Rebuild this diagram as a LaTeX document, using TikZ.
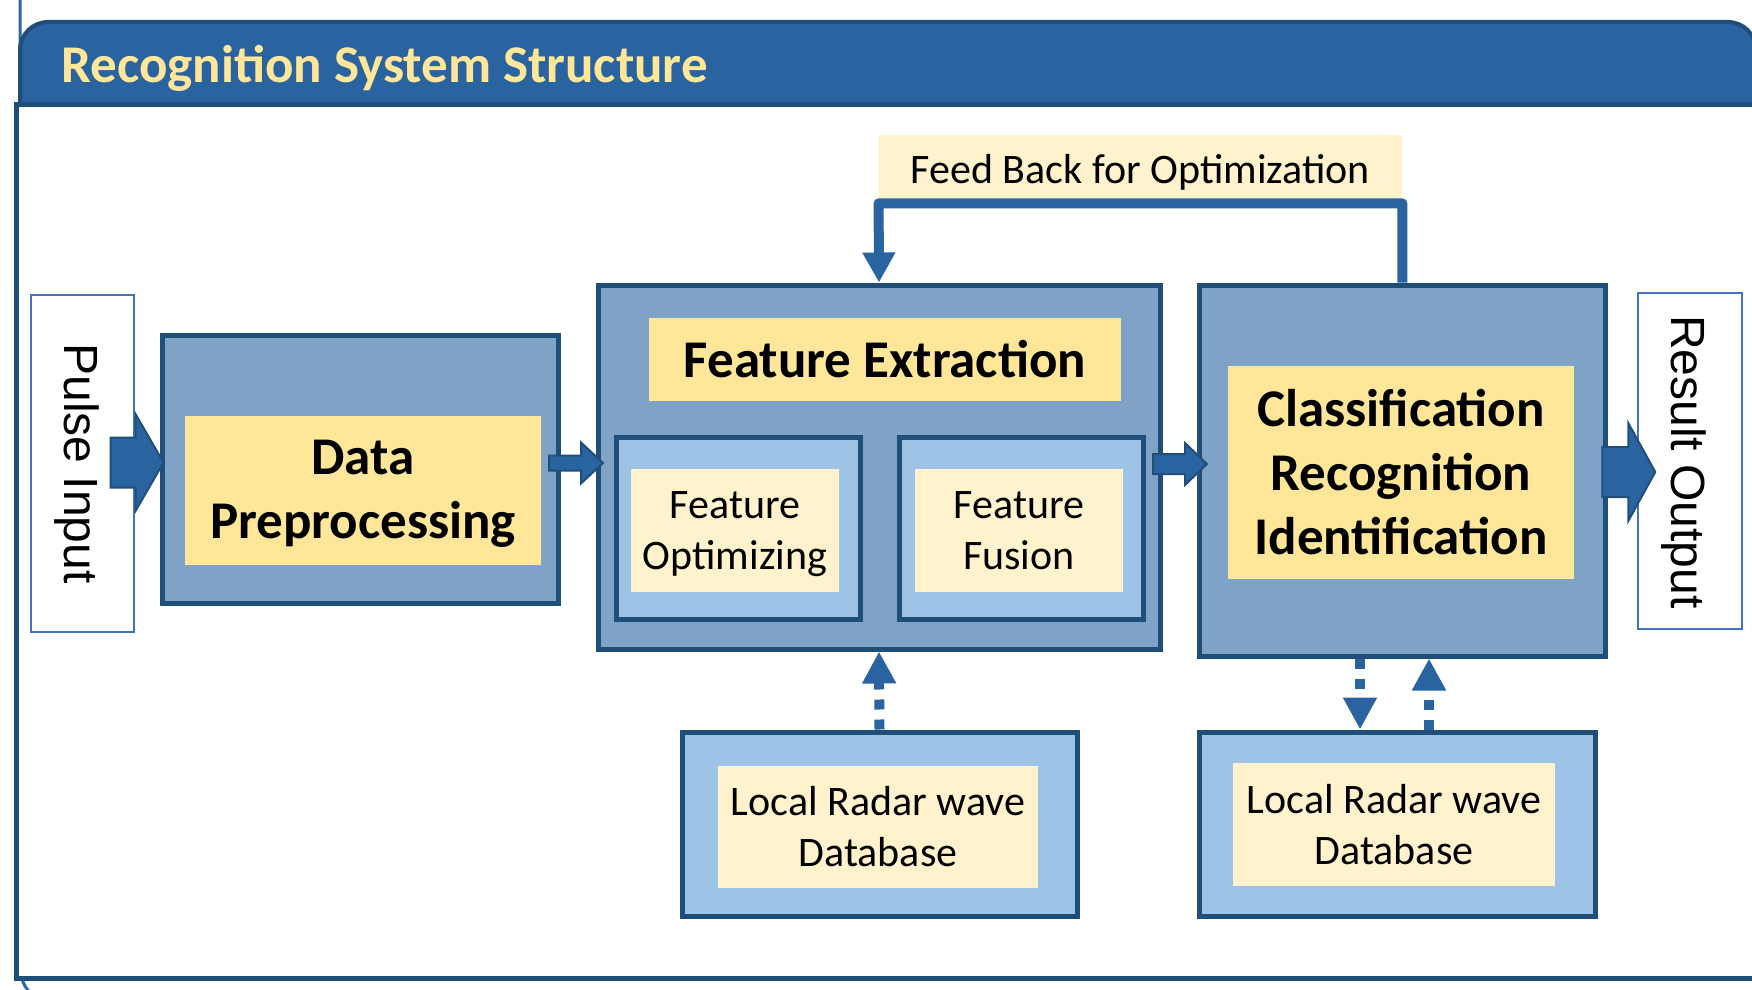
\documentclass[tikz,border=0pt]{standalone}
\usepackage{fontspec}
\setmainfont{Carlito}
\newfontfamily\arialfont{Liberation Sans}
\usetikzlibrary{fit,calc,arrows.meta}

\definecolor{framedark}{HTML}{1F4E79}
\definecolor{barblue}{HTML}{2A64A0}
\definecolor{midblue}{HTML}{7FA3C7}
\definecolor{lightblue}{HTML}{9DC3E6}
\definecolor{yellowfill}{HTML}{FFE699}
\definecolor{paleyellow}{HTML}{FFF2CC}
\definecolor{portblue}{HTML}{4472C4}
\definecolor{panelblue}{HTML}{2E65A5}

\newcommand\bigbold{\fontsize{26.5}{32}\selectfont\bfseries}
\newcommand\smalltext{\fontsize{21}{25.5}\selectfont}
\newcommand\porttext{\arialfont\fontsize{24}{28}\selectfont}

% filled block arrow: tip, total length, shaft half height, head half height, head length
\newcommand\blockarrow[5]{%
  \filldraw[blockarr] (#1) -- ++(-#5,#4) -- ++(0,-#4+#3) -- ++(-#2+#5,0)
    -- ++(0,-2*#3) -- ++(#2-#5,0) -- ++(0,-#4+#3) -- cycle;}

\begin{document}
\begin{tikzpicture}[x=0.5pt,y=-0.5pt,
  outerbox/.style={draw=framedark, line width=2.5pt, fill=midblue, inner sep=0pt},
  subbox/.style={draw=framedark, line width=2.5pt, fill=lightblue, inner sep=0pt},
  hilite/.style={fill=yellowfill, inner sep=0pt},
  softbox/.style={fill=paleyellow, inner sep=0pt},
  boldtext/.style={font=\bigbold, align=center, inner sep=0pt},
  plaintext/.style={font=\smalltext, align=center, inner sep=0pt},
  portbox/.style={draw=portblue, line width=0.75pt, fill=white, inner sep=0pt},
  blockarr/.style={fill=barblue, draw=framedark, line width=1pt, line join=miter},
  fbline/.style={draw=barblue, line width=5pt, line join=round,
    -{Triangle[width=15.5pt,length=15pt]}},
  dbline/.style={draw=barblue, line width=5pt, dash pattern=on 5pt off 5pt,
    -{Triangle[width=16pt,length=16pt]}}]

\useasboundingbox (0,0) rectangle (1752,990);
\fill[white] (0,0) rectangle (1752,990);

% outer panel edge, mostly hidden behind the frame
\draw[panelblue, line width=1.5pt] (20,-10) -- (20,960)
  .. controls (20,980) and (24,988) .. (34,996);

% title bar and frame
\draw[draw=framedark, line width=2pt, fill=barblue, rounded corners=14pt]
  (20,22) rectangle (1756,170);
\draw[draw=framedark, line width=2.5pt, fill=white] (16,105) rectangle (1768,978);
\node[anchor=base west, inner sep=0pt, font=\bigbold, text=yellowfill]
  (title) at (61,83) {Recognition System Structure};

% input and output ports
\node[portbox, fit={(31,295) (134,632)}] (pulse) {};
\node[rotate=-90, font=\porttext, inner sep=0pt] (pulsetxt)
  at ($(pulse.center)+(-6,0)$) {Pulse Input};
\node[portbox, fit={(1638,293) (1742,629)}] (result) {};
\node[rotate=-90, font=\porttext, inner sep=0pt] (resulttxt)
  at ($(result.center)+(-6,1)$) {Result Output};

% data preprocessing
\node[outerbox, fit={(162,335) (558,603)}] (dp) {};
\node[hilite, fit={(185,416) (541,565)}] (dpin) {};
\node[boldtext] (dptxt) at ($(dpin.center)+(0,3)$) {Data\\Preprocessing};

% feature extraction
\node[outerbox, fit={(598,285) (1160,649)}] (fe) {};
\node[hilite, fit={(649,318) (1121,401)}] (fetitle) {};
\node[boldtext] (fetxt) at (fetitle.center) {Feature Extraction};
\node[subbox, fit={(616,437) (860,619)}] (fo) {};
\node[softbox, fit={(631,469) (839,592)}] (foin) {};
\node[plaintext] (fotxt) at ($(foin.center)+(0,4)$) {Feature\\Optimizing};
\node[subbox, fit={(899,437) (1143,619)}] (ff) {};
\node[softbox, fit={(915,469) (1123,592)}] (ffin) {};
\node[plaintext] (fftxt) at (ffin.center) {Feature\\Fusion};

% classification
\node[outerbox, fit={(1199,285) (1605,656)}] (cr) {};
\node[hilite, fit={(1228,366) (1574,579)}] (crin) {};
\node[boldtext] (crtxt) at (crin.center)
  {Classification\\Recognition\\Identification};

% radar wave databases
\node[subbox, fit={(682,732) (1077,916)}] (dbl) {};
\node[softbox, fit={(718,766) (1038,888)}] (dblin) {};
\node[plaintext] (dbltxt) at (dblin.center) {Local Radar wave\\Database};
\node[subbox, fit={(1199,732) (1595,916)}] (dbr) {};
\node[softbox, fit={(1233,763) (1555,886)}] (dbrin) {};
\node[plaintext] (dbrtxt) at (dbrin.center) {Local Radar wave\\Database};

% feedback label
\node[fill=paleyellow, inner sep=0pt, fit={(879,135) (1402,203)}] (fb) {};
\node[anchor=base, font=\smalltext, inner sep=0pt] (fbtxt)
  at ($(fb.south)+(0,-20)$) {Feed Back for Optimization};

% main flow arrows
\blockarrow{$(dp.west |- pulse.east)+(4,-1)$}{53}{25}{48.5}{28}
\blockarrow{$(fe.west)+(7.5,-4)$}{54}{7.5}{20.5}{22}
\blockarrow{$(cr.west)+(10.5,-6.5)$}{54}{10}{21}{22}
\blockarrow{$(result.west)+(18,11)$}{53}{25}{49}{27}

% feedback loop
\draw[fbline] (cr.north -| fb.south east) -- (fb.south east)
  -- (fb.south west) -- (fe.north);

% database links
\coordinate (downx) at (1360,0);
\coordinate (upx) at (1429,0);
\draw[dbline] (dbl.north) -- (fe.south);
\draw[dbline] (cr.south -| downx) -- (dbr.north -| downx);
\draw[dbline] (dbr.north -| upx) -- (cr.south -| upx);
\end{tikzpicture}
\end{document}
